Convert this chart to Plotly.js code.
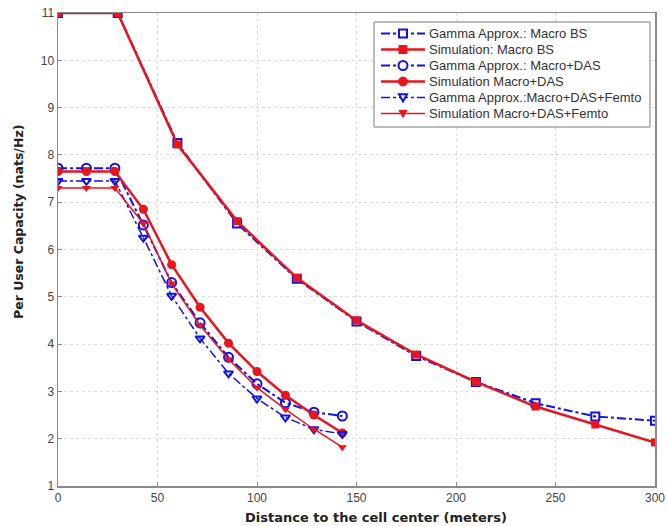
<!DOCTYPE html>
<html>
<head>
<meta charset="utf-8">
<script src="https://cdn.plot.ly/plotly-3.0.1.min.js"></script>
<style>html,body{margin:0;padding:0;background:#fff;}#chart{width:667px;height:526px;}</style>
</head>
<body>
<div id="chart"></div>
<script>
// Distances (meters)
const xMacro = [0, 30, 60, 90, 120, 150, 180, 210, 240, 270, 300];
const xDAS = [0, 14.3, 28.6, 42.9, 57.1, 71.4, 85.7, 100, 114.3, 128.6, 142.9];

// Per user capacity (nats/Hz)
const gammaMacro = [11, 11, 8.25, 6.55, 5.38, 4.48, 3.75, 3.2, 2.75, 2.47, 2.38];
const simMacro = [11, 11, 8.22, 6.6, 5.4, 4.5, 3.78, 3.2, 2.68, 2.3, 1.92];
const gammaDAS = [7.72, 7.72, 7.72, 6.52, 5.3, 4.45, 3.72, 3.16, 2.76, 2.56, 2.48];
const simDAS = [7.65, 7.65, 7.65, 6.85, 5.68, 4.78, 4.02, 3.42, 2.92, 2.5, 2.12];
const gammaFemto = [7.45, 7.45, 7.45, 6.25, 5.02, 4.12, 3.38, 2.85, 2.45, 2.2, 2.1];
const simFemto = [7.3, 7.3, 7.3, 6.55, 5.28, 4.4, 3.68, 3.08, 2.62, 2.2, 1.82];

const names = [
  'Gamma Approx.: Macro BS',
  'Simulation: Macro BS',
  'Gamma Approx.: Macro+DAS',
  'Simulation Macro+DAS',
  'Gamma Approx.:Macro+DAS+Femto',
  'Simulation Macro+DAS+Femto'
];
const xTitle = 'Distance to the cell center (meters)';
const yTitle = 'Per User Capacity (nats/Hz)';

const BLUE = '#1010e8';
const RED = '#e8141e';

const styles = [
  {color: BLUE, width: 2, dash: 'dashdot', symbol: 'square', open: true, size: 8},
  {color: RED, width: 2.5, dash: 'solid', symbol: 'square', open: false, size: 8},
  {color: BLUE, width: 2, dash: 'dashdot', symbol: 'circle', open: true, size: 9},
  {color: RED, width: 2.5, dash: 'solid', symbol: 'circle', open: false, size: 9},
  {color: BLUE, width: 1.5, dash: 'dashdot', symbol: 'triangle-down', open: true, size: 8},
  {color: RED, width: 1.5, dash: 'solid', symbol: 'triangle-down', open: false, size: 8}
];
const xs = [xMacro, xMacro, xDAS, xDAS, xDAS, xDAS];
const ys = [gammaMacro, simMacro, gammaDAS, simDAS, gammaFemto, simFemto];

const traces = styles.map((s, i) => ({
  x: xs[i], y: ys[i], name: names[i], mode: 'lines+markers', showlegend: false,
  line: {color: s.color, width: s.width, dash: s.dash},
  marker: {
    symbol: s.symbol + (s.open ? '-open' : ''), size: s.size, color: s.color,
    line: {width: s.open ? 2 : 0, color: s.color}
  }
}));

// Plot-area geometry (pixels) used only to place the hand-drawn legend and titles
const W = 667, H = 526, ML = 58, MR = 12, MT = 13, MB = 40;
const PW = W - ML - MR, PH = H - MT - MB;
const px = v => (v - ML) / PW;
const py = v => (H - MB - v) / PH;

const LEG = {left: 374, right: 650, top: 22, bottom: 127, row0: 33.5, step: 16,
             lineL: 381, lineR: 425, textX: 427};
const shapes = [{
  type: 'rect', xref: 'paper', yref: 'paper',
  x0: px(LEG.left), x1: px(LEG.right), y0: py(LEG.bottom), y1: py(LEG.top),
  fillcolor: '#ffffff', line: {color: '#7a7a7a', width: 1}, layer: 'above'
}];
const annotations = [];
styles.forEach((s, i) => {
  const yy = LEG.row0 + i * LEG.step;
  const cx = (LEG.lineL + LEG.lineR) / 2;
  shapes.push({type: 'line', xref: 'paper', yref: 'paper', layer: 'above',
    x0: px(LEG.lineL), x1: px(LEG.lineR), y0: py(yy), y1: py(yy),
    line: {color: s.color, width: s.width, dash: s.dash}});
  const r = s.size / 2;
  const fill = s.open ? '#ffffff' : s.color;
  const ln = {color: s.color, width: s.open ? 2 : 1};
  if (s.symbol === 'square') {
    shapes.push({type: 'rect', xref: 'paper', yref: 'paper', layer: 'above',
      x0: px(cx - r), x1: px(cx + r), y0: py(yy + r), y1: py(yy - r), fillcolor: fill, line: ln});
  } else if (s.symbol === 'circle') {
    shapes.push({type: 'circle', xref: 'paper', yref: 'paper', layer: 'above',
      x0: px(cx - r), x1: px(cx + r), y0: py(yy + r), y1: py(yy - r), fillcolor: fill, line: ln});
  } else {
    const p = 'M' + px(cx - r) + ',' + py(yy - r * 0.8) + ' L' + px(cx + r) + ',' + py(yy - r * 0.8) +
              ' L' + px(cx) + ',' + py(yy + r) + ' Z';
    shapes.push({type: 'path', xref: 'paper', yref: 'paper', layer: 'above', path: p, fillcolor: fill, line: ln});
  }
  annotations.push({xref: 'paper', yref: 'paper', x: px(LEG.textX), y: py(yy),
    xanchor: 'left', yanchor: 'middle', showarrow: false, text: names[i],
    font: {family: 'Liberation Sans, Arial, sans-serif', size: 13, color: '#333'}});
});

// Axis titles
annotations.push({xref: 'paper', yref: 'paper', x: px(376), y: py(517),
  xanchor: 'center', yanchor: 'middle', showarrow: false, text: '<b>' + xTitle + '</b>',
  font: {family: 'DejaVu Sans, sans-serif', size: 13, color: '#222'}});
annotations.push({xref: 'paper', yref: 'paper', x: px(18), y: py(222),
  xanchor: 'center', yanchor: 'middle', showarrow: false, textangle: -90, text: '<b>' + yTitle + '</b>',
  font: {family: 'DejaVu Sans, sans-serif', size: 12.5, color: '#222'}});

const axisCommon = {
  showline: true, linecolor: '#8a8a8a', linewidth: 1.5, mirror: true,
  showgrid: true, gridcolor: '#dddddd', griddash: 'dot', gridwidth: 1,
  ticks: 'inside', ticklen: 4, tickcolor: '#8a8a8a',
  zeroline: false, ticklabeloverflow: 'allow',
  tickfont: {family: 'Liberation Sans, Arial, sans-serif', size: 12, color: '#444'}
};

const layout = {
  width: W, height: H,
  margin: {l: ML, r: MR, t: MT, b: MB},
  paper_bgcolor: '#fff', plot_bgcolor: '#fff',
  showlegend: false,
  shapes: shapes,
  annotations: annotations,
  xaxis: Object.assign({}, axisCommon, {
    range: [0, 300], tickvals: [0, 50, 100, 150, 200, 250, 300]
  }),
  yaxis: Object.assign({}, axisCommon, {
    range: [1, 11], tickvals: [1, 2, 3, 4, 5, 6, 7, 8, 9, 10, 11]
  })
};

Plotly.newPlot('chart', traces, layout, {displayModeBar: false, staticPlot: true});
</script>
</body>
</html>
